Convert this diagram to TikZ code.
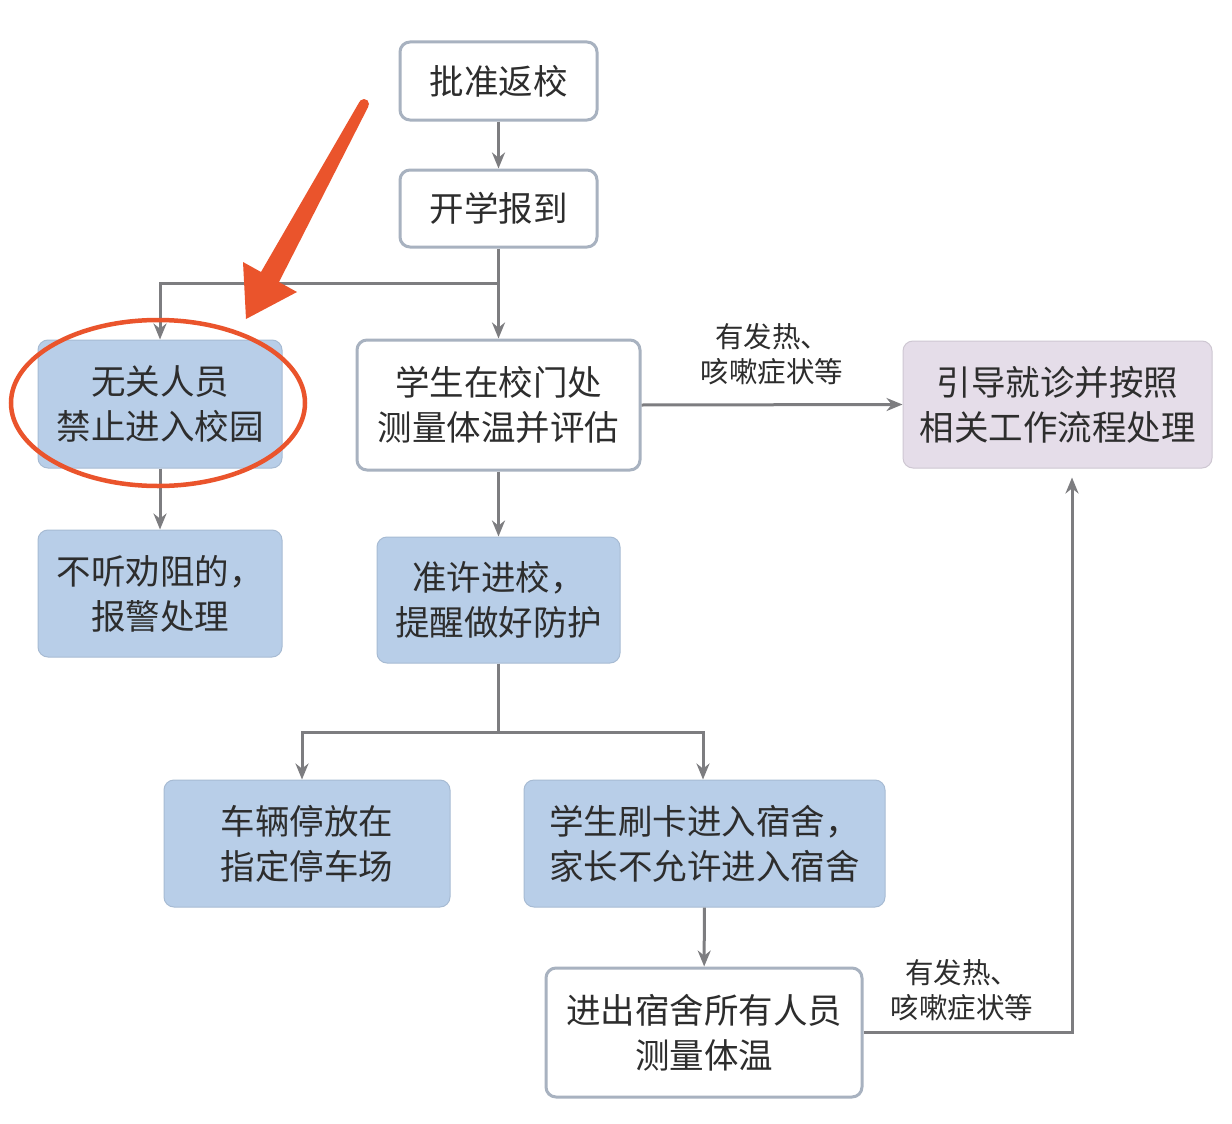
\documentclass[tikz,border=0pt]{standalone}
\usepackage{fontspec}
\setmainfont{Noto Sans CJK SC}
\usetikzlibrary{arrows.meta}
\definecolor{boxblue}{RGB}{184,206,232}
\definecolor{boxpurple}{RGB}{229,221,233}
\definecolor{boxborder}{RGB}{168,178,192}
\definecolor{linegray}{RGB}{125,125,128}
\definecolor{textgray}{RGB}{45,45,45}
\definecolor{markred}{RGB}{234,84,44}
\begin{document}
\begin{tikzpicture}[x=1pt,y=-1pt,
  basebox/.style={rounded corners=10pt, inner sep=0pt, align=center, text=textgray,
    font=\fontsize{34.5}{45}\selectfont},
  whitebox/.style={basebox, draw=boxborder, line width=3pt, fill=white},
  bluebox/.style={basebox, draw=boxblue!85!black!60!boxblue, line width=1pt, fill=boxblue},
  purplebox/.style={basebox, draw=boxpurple!90!black, line width=1pt, fill=boxpurple},
  conn/.style={draw=linegray, line width=3pt},
  arr/.style={conn, -{Stealth[length=16pt,width=13pt]}},
  lbl/.style={align=center, text=textgray, font=\fontsize{28.5}{35}\selectfont, inner sep=0pt}]
\useasboundingbox (0,0) rectangle (1232,1124);
\fill[white] (0,0) rectangle (1232,1124);

\node[whitebox, minimum width=197pt, minimum height=78pt] (n1) at (498.5,81) {批准返校};
\node[whitebox, minimum width=197pt, minimum height=77pt] (n2) at (498.5,208.5) {开学报到};
\node[bluebox, minimum width=244pt, minimum height=128pt] (n3) at (160,404) {无关人员\\禁止进入校园};
\node[whitebox, minimum width=283pt, minimum height=130pt] (n4) at (498.5,405) {学生在校门处\\测量体温并评估};
\node[purplebox, minimum width=309pt, minimum height=127pt] (n5) at (1057.5,404.5) {引导就诊并按照\\相关工作流程处理};
\node[bluebox, minimum width=244pt, minimum height=127pt] (n6) at (160,593.5) {不听劝阻的，\\报警处理};
\node[bluebox, minimum width=243pt, minimum height=126pt] (n7) at (498.5,600) {准许进校，\\提醒做好防护};
\node[bluebox, minimum width=286pt, minimum height=127pt] (n8) at (307,843.5) {车辆停放在\\指定停车场};
\node[bluebox, minimum width=361pt, minimum height=127pt] (n9) at (704.5,843.5) {学生刷卡进入宿舍，\\家长不允许进入宿舍};
\node[whitebox, minimum width=316pt, minimum height=129pt] (n10) at (704,1032.5) {进出宿舍所有人员\\测量体温};

\coordinate (j1) at (498.5,283);
\coordinate (j2) at (498.5,732);

\draw[arr] (n1) -- (n2);
\draw[conn] (n2.south) -- (j1);
\draw[arr] (j1) -| (n3.north);
\draw[arr] (j1) -- (n4.north);
\draw[arr] (n4.east) -- (n5.west) node[lbl, midway, above=18pt] {有发热、\\咳嗽症状等};
\draw[arr] (n3) -- (n6);
\draw[arr] (n4) -- (n7);
\draw[conn] (n7.south) -- (j2);
\draw[arr] (j2) -| ([xshift=-5pt]n8.north);
\draw[arr] (j2) -| ([xshift=-1.5pt]n9.north);
\draw[arr] (n9) -- (n10);
\draw[arr, shorten >=9pt] (n10.east) -| ([xshift=14.5pt]n5.south);
\node[lbl] (l2) at (962,990) {有发热、\\咳嗽症状等};

% red annotation
\draw[markred, line width=4.5pt] (158,403) ellipse [x radius=147pt, y radius=83pt];
\fill[markred] (359.6,101.6) -- (368.4,106.4) -- (279,282) -- (297,292) -- (246,319) -- (243,262) -- (261,272) -- cycle;
\fill[markred] (364,104) circle [radius=5pt];
\end{tikzpicture}
\end{document}
